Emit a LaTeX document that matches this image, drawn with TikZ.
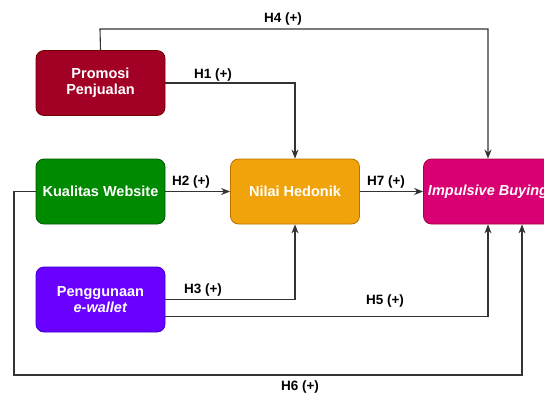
\documentclass[tikz,border=0pt]{standalone}
\usepackage{fontspec}
\setmainfont{Liberation Sans}
\usetikzlibrary{arrows.meta,calc}
\definecolor{cProm}{HTML}{A20025}
\definecolor{cPromB}{HTML}{6F0000}
\definecolor{cKual}{HTML}{008A00}
\definecolor{cKualB}{HTML}{005700}
\definecolor{cPeng}{HTML}{6A00FF}
\definecolor{cPengB}{HTML}{3700CC}
\definecolor{cNil}{HTML}{F0A30A}
\definecolor{cNilB}{HTML}{BD7000}
\definecolor{cImp}{HTML}{D80073}
\definecolor{cImpB}{HTML}{A50040}
\definecolor{cLine}{HTML}{333333}
\tikzset{
  varbox/.style={draw, rounded corners=8pt, line width=0.8pt, minimum width=129pt, minimum height=65pt,
    inner sep=2pt, align=center, text=white, font=\fontsize{14.5}{16}\selectfont\bfseries},
  arr/.style={draw=cLine, line width=1.1pt, -{Stealth[length=9pt,width=7pt]}},
  lbl/.style={font=\fontsize{13.5}{15}\selectfont\bfseries, text=black, inner sep=0pt}
}
\begin{document}
\begin{tikzpicture}[x=1pt,y=-1pt]
\useasboundingbox (0,0) rectangle (544,394);
\clip (0,0) rectangle (544,394);
\fill[white] (0,0) rectangle (544,394);
\node[varbox, fill=cProm, draw=cPromB] (prom) at (100.5,83) {Promosi\\Penjualan};
\node[varbox, fill=cKual, draw=cKualB] (kual) at (100.5,191.5) {Kualitas Website};
\node[varbox, fill=cPeng, draw=cPengB] (peng) at (100.5,299.5) {Penggunaan\\\textit{e-wallet}};
\node[varbox, fill=cNil, draw=cNilB] (nil) at (295,191.5) {Nilai Hedonik};
\node[varbox, fill=cImp, draw=cImpB] (imp) at (488,191.5) {\textit{Impulsive Buying}};
\coordinate (h4) at (100,29);
\coordinate (h6) at (14,375);
\draw[arr] (prom.north) -- (h4) -| (imp.north);
\draw[arr] (prom.east) -| (nil.north);
\draw[arr] (kual.east) -- (nil.west);
\draw[arr] (nil.east) -- (imp.west);
\draw[arr] (peng.east) -| (nil.south);
\draw[arr] ([yshift=-17pt]peng.east) -| (imp.south);
\draw[arr] (kual.west) -| (h6) -| ([xshift=34pt]imp.south);
\node[lbl] (l4) at (283,19) {H4 (+)};
\node[lbl] (l1) at (213,75) {H1 (+)};
\node[lbl] (l2) at (191,182) {H2 (+)};
\node[lbl] (l7) at (386,182) {H7 (+)};
\node[lbl] (l3) at (203,290) {H3 (+)};
\node[lbl] (l5) at (385,301) {H5 (+)};
\node[lbl] (l6) at (300,387) {H6 (+)};
\end{tikzpicture}
\end{document}
